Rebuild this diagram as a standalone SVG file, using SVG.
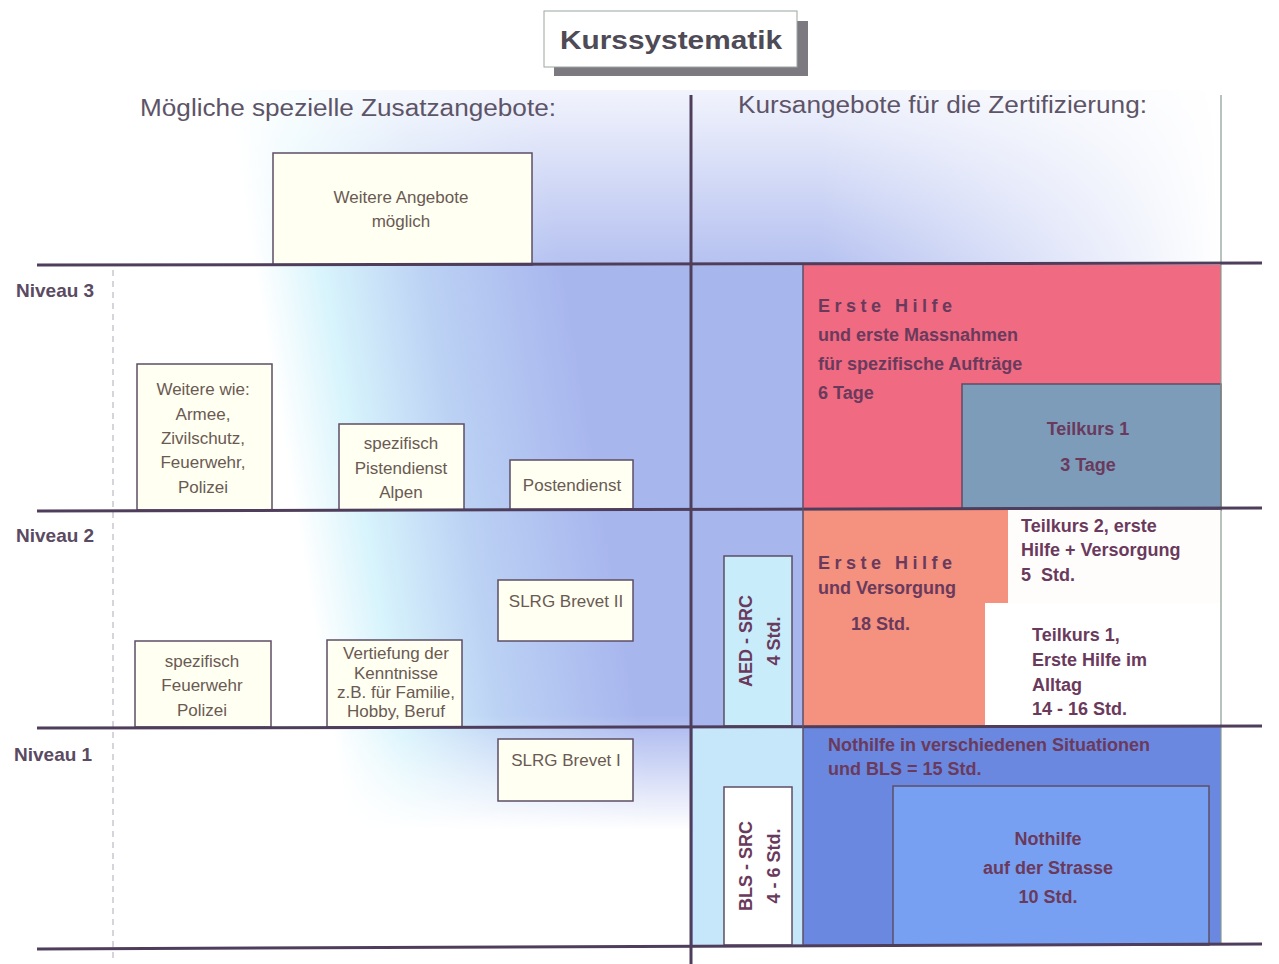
<svg xmlns="http://www.w3.org/2000/svg" width="1279" height="964" viewBox="0 0 1279 964">
<style>
.ln{stroke:#4e3e5c;stroke-width:3;fill:none}
.box{fill:#fffff2;stroke:#5e4e66;stroke-width:1.5}
.bt{font-family:"Liberation Sans",Arial,sans-serif;font-size:17px;fill:#6a5a52;text-anchor:middle}
.rt{font-family:"Liberation Sans",Arial,sans-serif;font-size:18px;font-weight:bold;fill:#6a3a5c}
.niv{font-family:"Liberation Sans",Arial,sans-serif;font-size:19px;font-weight:bold;fill:#5a4a62}
.hd{font-family:"Liberation Sans",Arial,sans-serif;font-size:23px;fill:#5e5468}
.sp{letter-spacing:4.5px}
</style>
<defs>
<linearGradient id="bg" gradientUnits="userSpaceOnUse" x1="280" y1="420" x2="580" y2="370">
<stop offset="0" stop-color="#ffffff"/>
<stop offset="0.22" stop-color="#d8f4fc"/>
<stop offset="0.55" stop-color="#bcd2f4"/>
<stop offset="1" stop-color="#a8b6ee"/>
</linearGradient>
<linearGradient id="topfade" x1="0" y1="0" x2="0" y2="1">
<stop offset="0" stop-color="#ffffff" stop-opacity="0.85"/>
<stop offset="1" stop-color="#ffffff" stop-opacity="0.15"/>
</linearGradient>
<linearGradient id="rightfade" gradientUnits="userSpaceOnUse" x1="820" y1="0" x2="1220" y2="0">
<stop offset="0" stop-color="#ffffff" stop-opacity="0"/>
<stop offset="1" stop-color="#ffffff" stop-opacity="1"/>
</linearGradient>
<linearGradient id="botfade" gradientUnits="userSpaceOnUse" x1="0" y1="715" x2="0" y2="830">
<stop offset="0" stop-color="#ffffff" stop-opacity="0"/>
<stop offset="1" stop-color="#ffffff" stop-opacity="1"/>
</linearGradient>
</defs>
<rect width="1279" height="964" fill="#ffffff"/>
<g id="background">
<rect x="0" y="90" width="1221" height="860" fill="url(#bg)"/>
<rect x="0" y="90" width="1221" height="176" fill="url(#topfade)"/>
<rect x="691" y="90" width="530" height="176" fill="url(#rightfade)"/>
<rect x="0" y="715" width="691" height="240" fill="url(#botfade)"/>
<rect x="0" y="945" width="1279" height="19" fill="#ffffff"/>
</g>

<g id="title">
<rect x="554" y="21" width="254" height="55" fill="#7c7a80"/>
<rect x="544" y="11" width="253" height="56" fill="#ffffff" stroke="#9aa8a0" stroke-width="1"/>
<text x="671" y="49" font-family="Liberation Sans,Arial,sans-serif" font-size="26" font-weight="bold" fill="#4e4a56" text-anchor="middle" textLength="222" lengthAdjust="spacingAndGlyphs">Kurssystematik</text>
</g>

<g id="headings">
<text class="hd" x="140" y="116" textLength="416" lengthAdjust="spacingAndGlyphs">Mögliche spezielle Zusatzangebote:</text>
<text class="hd" x="738" y="113" textLength="409" lengthAdjust="spacingAndGlyphs">Kursangebote für die Zertifizierung:</text>
</g>

<g id="niveaus">
<text class="niv" x="16" y="297">Niveau 3</text>
<text class="niv" x="16" y="542">Niveau 2</text>
<text class="niv" x="14" y="761">Niveau 1</text>
</g>

<g id="right-column">
<rect x="693" y="727" width="110" height="218" fill="#c6e6f9"/>
<g id="n3-erste-hilfe">
<rect x="803" y="265" width="418" height="245" fill="#f06a82"/>
<text class="rt" x="818" y="312"><tspan class="sp">Erste Hilfe</tspan></text>
<text class="rt" x="818" y="341">und erste Massnahmen</text>
<text class="rt" x="818" y="370">für spezifische Aufträge</text>
<text class="rt" x="818" y="399">6 Tage</text>
</g>
<g id="n3-teilkurs1">
<rect x="962" y="384" width="259" height="126" fill="#7c9cba" stroke="#5e4e66" stroke-width="1.5"/>
<text class="rt" x="1088" y="435" text-anchor="middle" font-size="17">Teilkurs 1</text>
<text class="rt" x="1088" y="471" text-anchor="middle" font-size="17">3 Tage</text>
</g>
<g id="n2-erste-hilfe">
<path d="M803 510 H1008 V603 H985 V727 H803 Z" fill="#f4917f"/>
<text class="rt" x="818" y="569" font-size="17"><tspan class="sp">Erste Hilfe</tspan></text>
<text class="rt" x="818" y="594" font-size="17">und Versorgung</text>
<text class="rt" x="851" y="630" font-size="17">18 Std.</text>
</g>
<g id="n2-teilkurs2">
<rect x="1008" y="510" width="213" height="93" fill="#fffdfc"/>
<text class="rt" x="1021" y="532" font-size="17">Teilkurs 2, erste</text>
<text class="rt" x="1021" y="556" font-size="17">Hilfe + Versorgung</text>
<text class="rt" x="1021" y="581" font-size="17" xml:space="preserve">5  Std.</text>
</g>
<g id="n2-teilkurs1">
<rect x="985" y="603" width="236" height="124" fill="#ffffff"/>
<text class="rt" x="1032" y="641" font-size="17">Teilkurs 1,</text>
<text class="rt" x="1032" y="666" font-size="17">Erste Hilfe im</text>
<text class="rt" x="1032" y="691" font-size="17">Alltag</text>
<text class="rt" x="1032" y="715" font-size="17">14 - 16 Std.</text>
</g>
<g id="aed">
<rect x="724" y="556" width="68" height="170" fill="#c8ecfa" stroke="#5e4e66" stroke-width="1.5"/>
<text class="rt" font-size="20" text-anchor="middle" transform="translate(752 641) rotate(-90)">AED - SRC</text>
<text class="rt" font-size="20" text-anchor="middle" transform="translate(780 641) rotate(-90)">4 Std.</text>
</g>
<g id="n1-nothilfe">
<rect x="803" y="727" width="418" height="218" fill="#6a88e0"/>
<text class="rt" x="828" y="751" font-size="16" fill="#5a4a72">Nothilfe in verschiedenen Situationen</text>
<text class="rt" x="828" y="775" font-size="16" fill="#5a4a72">und BLS = 15 Std.</text>
</g>
<g id="n1-strasse">
<rect x="893" y="786" width="316" height="159" fill="#78a0f2" stroke="#5e4e66" stroke-width="1.5"/>
<text class="rt" x="1048" y="845" font-size="20" text-anchor="middle" fill="#5a4a72">Nothilfe</text>
<text class="rt" x="1048" y="874" font-size="20" text-anchor="middle" fill="#5a4a72">auf der Strasse</text>
<text class="rt" x="1048" y="903" font-size="20" text-anchor="middle" fill="#5a4a72">10 Std.</text>
</g>
<g id="bls">
<rect x="724" y="787" width="68" height="158" fill="#ffffff" stroke="#5e4e66" stroke-width="1.5"/>
<text class="rt" font-size="20" text-anchor="middle" fill="#5a4a72" transform="translate(752 866) rotate(-90)">BLS - SRC</text>
<text class="rt" font-size="20" text-anchor="middle" fill="#5a4a72" transform="translate(780 866) rotate(-90)">4 - 6 Std.</text>
</g>
</g>

<g id="left-boxes">
<g id="weitere-angebote">
<rect class="box" x="273" y="153" width="259" height="112"/>
<text class="bt" x="401" y="203" fill="#6e5e3a">Weitere Angebote</text>
<text class="bt" x="401" y="227" fill="#6e5e3a">möglich</text>
</g>
<g id="weitere-wie">
<rect class="box" x="137" y="364" width="135" height="146"/>
<text class="bt" x="203" y="395">Weitere wie:</text>
<text class="bt" x="203" y="420">Armee,</text>
<text class="bt" x="203" y="444">Zivilschutz,</text>
<text class="bt" x="203" y="468">Feuerwehr,</text>
<text class="bt" x="203" y="493">Polizei</text>
</g>
<g id="pistendienst">
<rect class="box" x="339" y="424" width="125" height="86"/>
<text class="bt" x="401" y="449">spezifisch</text>
<text class="bt" x="401" y="474">Pistendienst</text>
<text class="bt" x="401" y="498">Alpen</text>
</g>
<g id="postendienst">
<rect class="box" x="510" y="460" width="123" height="50"/>
<text class="bt" x="572" y="491">Postendienst</text>
</g>
<g id="slrg2">
<rect class="box" x="498" y="580" width="135" height="61"/>
<text class="bt" x="566" y="607">SLRG Brevet II</text>
</g>
<g id="feuerwehr">
<rect class="box" x="135" y="641" width="136" height="86"/>
<text class="bt" x="202" y="667">spezifisch</text>
<text class="bt" x="202" y="691">Feuerwehr</text>
<text class="bt" x="202" y="716">Polizei</text>
</g>
<g id="vertiefung">
<rect class="box" x="327" y="640" width="135" height="87"/>
<text class="bt" x="396" y="659" font-size="13">Vertiefung der</text>
<text class="bt" x="396" y="679" font-size="13">Kenntnisse</text>
<text class="bt" x="396" y="698" font-size="13">z.B. für Familie,</text>
<text class="bt" x="396" y="717" font-size="13">Hobby, Beruf</text>
</g>
<g id="slrg1">
<rect class="box" x="498" y="739" width="135" height="62"/>
<text class="bt" x="566" y="766">SLRG Brevet I</text>
</g>
</g>

<g id="connectors">
<line x1="113" y1="270" x2="113" y2="960" stroke="#b0a8b8" stroke-width="1" stroke-dasharray="6 5"/>
<line x1="1221" y1="95" x2="1221" y2="945" stroke="#8a9a90" stroke-width="1.2"/>
<line class="ln" x1="691" y1="95" x2="691" y2="964"/>
<line class="ln" x1="37" y1="265" x2="1262" y2="263"/>
<line class="ln" x1="37" y1="511" x2="1262" y2="508"/>
<line class="ln" x1="37" y1="728" x2="1262" y2="726"/>
<line class="ln" x1="37" y1="949" x2="1262" y2="944"/>
<line x1="803" y1="265" x2="803" y2="945" stroke="#5e4e66" stroke-width="1.5"/>
</g>
</svg>
